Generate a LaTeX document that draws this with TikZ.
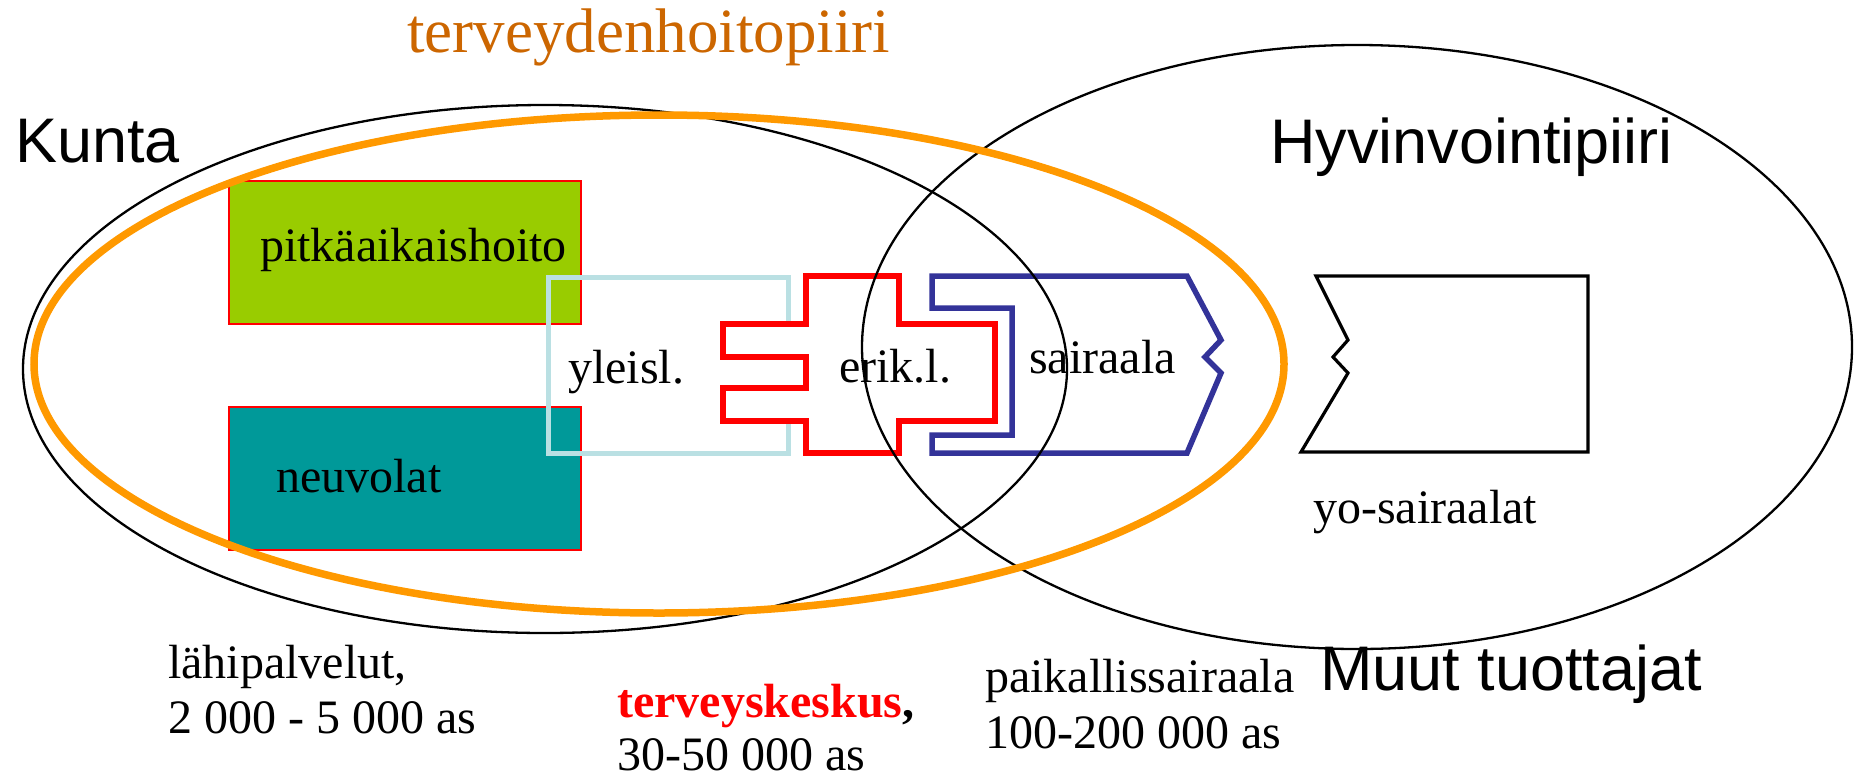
\documentclass[tikz,border=0pt]{standalone}
\usepackage{fontspec}
\setmainfont{Liberation Serif}
\newfontfamily\arialf{Liberation Sans}
\definecolor{pgreen}{HTML}{99CC00}
\definecolor{pteal}{HTML}{009999}
\definecolor{porange}{HTML}{FF9900}
\definecolor{ptitle}{HTML}{CC6600}
\definecolor{plblue}{HTML}{BAE0E3}
\definecolor{pblue}{HTML}{333399}
\begin{document}
\begin{tikzpicture}[x=1pt,y=-1pt,
  lbl/.style={inner sep=0pt, anchor=base west, font=\fontsize{48}{55}\selectfont},
  biglbl/.style={inner sep=0pt, anchor=base west, font=\arialf\fontsize{63}{72}\selectfont},
  boxstyle/.style={draw=red, line width=2pt, anchor=north west, minimum width=352pt, minimum height=143pt, inner sep=0pt},
  thinblk/.style={draw=black, line width=2.3pt},
  redline/.style={draw=red, line width=5.5pt},
  blueline/.style={draw=pblue, line width=5.5pt},
  lbline/.style={draw=plblue, line width=5pt},
  yoline/.style={draw=black, line width=3.2pt}]
\useasboundingbox (0,0) rectangle (1855,777);
% boxes
\node[boxstyle, fill=pgreen] (pitkabox) at (228,180) {};
\node[boxstyle, fill=pteal] (neuvobox) at (228,406) {};
% puzzle shapes
\draw[lbline] (788,323) -- (788,277) -- (548,277) -- (548,453) -- (788,453) -- (788,422);
\draw[redline, line join=miter] (806,276) -- (899,276) -- (899,324) -- (995,324) -- (995,421) -- (899,421) -- (899,453) -- (806,453) -- (806,421) -- (723,421) -- (723,388) -- (806,388) -- (806,357) -- (723,357) -- (723,324) -- (806,324) -- cycle;
\draw[blueline] (932,276) -- (1187,276) -- (1221,340) -- (1205,357) -- (1221,373) -- (1187,453) -- (932,453) -- (932,435) -- (1012,435) -- (1012,308) -- (932,308) -- cycle;
\draw[yoline] (1316,276) -- (1588,276) -- (1588,452) -- (1301,452) -- (1348,373) -- (1333,357) -- (1348,340) -- cycle;
% ellipses
\draw[thinblk] (545,369) ellipse [x radius=522, y radius=264];
\draw[thinblk] (1357,347) ellipse [x radius=495, y radius=302];
\draw[draw=porange, line width=7.5pt] (659,364) ellipse [x radius=625, y radius=249];
% texts
\node[inner sep=0pt, anchor=base west, font=\fontsize{63}{72}\selectfont, text=ptitle] (title) at (407,52) {terveydenhoitopiiri};
\node[biglbl] (kunta) at (15,162) {Kunta};
\node[biglbl] (hyvin) at (1270,163) {Hyvinvointipiiri};
\node[biglbl] (muut) at (1320,690) {Muut tuottajat};
\node[lbl] (pitka) at (260,261) {pitkäaikaishoito};
\node[lbl] (neuvo) at (276,492) {neuvolat};
\node[lbl] (yleisl) at (568,383) {yleisl.};
\node[lbl] (erik) at (839,382) {erik.l.};
\node[lbl] (sair) at (1029,373) {sairaala};
\node[lbl] (yosair) at (1313,523) {yo-sairaalat};
\node[lbl] (lahi1) at (168,678) {lähipalvelut,};
\node[lbl] (lahi2) at (168,733) {2 000 - 5 000 as};
\node[lbl] (tk1) at (617,717) {\textcolor{red}{\bfseries terveyskeskus}\textbf{,}};
\node[lbl] (tk2) at (617,770) {30-50 000 as};
\node[lbl] (paik1) at (985,692) {paikallissairaala};
\node[lbl] (paik2) at (985,748) {100-200 000 as};
\end{tikzpicture}
\end{document}
